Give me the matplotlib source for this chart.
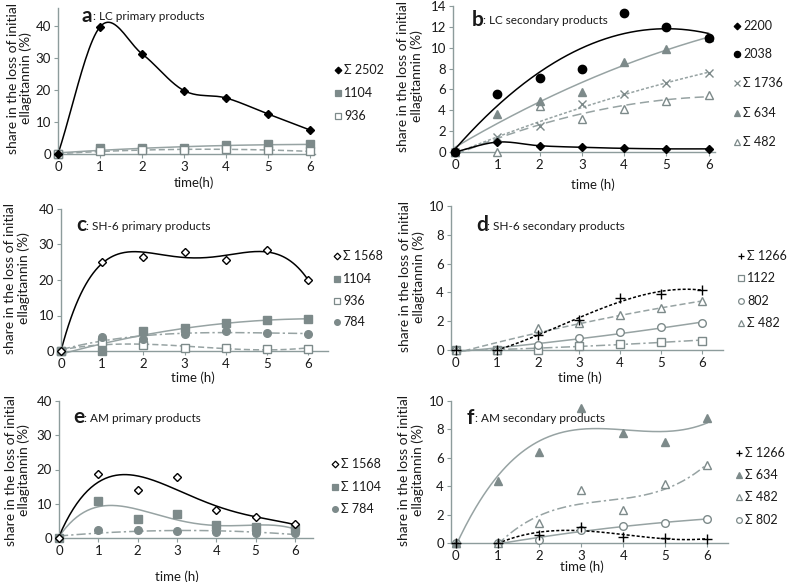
import numpy as np
import matplotlib
matplotlib.use("Agg")
import matplotlib.pyplot as plt
from matplotlib.lines import Line2D

plt.rcParams["font.family"] = ["Lato", "DejaVu Sans"]

# ── Data ─────────────────────────────────────────────────────────
T = [0, 1, 2, 3, 4, 5, 6]

# a : LC primary products
A_2502 = [0, 39.7, 31.3, 19.8, 17.5, 12.5, 7.5]
A_1104 = [0, 1.8, 1.8, 1.8, 2.7, 3.0, 3.0]
A_936 = [0, 1.0, 1.2, 1.3, 1.5, 1.3, 0.8]

# b : LC secondary products
B_2200 = [0, 0.95, 0.6, 0.45, 0.35, 0.3, 0.3]
B_2038 = [0, 5.6, 7.1, 8.0, 13.3, 12.0, 10.9]
B_1736 = [0, 1.4, 2.5, 4.6, 5.6, 6.6, 7.6]
B_634 = [0, 3.6, 4.9, 5.8, 8.6, 9.9, 11.0]
B_482 = [0, 0.0, 4.4, 3.2, 4.1, 4.9, 5.5]

# c : SH-6 primary products
C_1568 = [0, 25.2, 26.6, 28.0, 25.7, 28.4, 19.9]
C_1104 = [0, 0.0, 5.6, 6.5, 7.9, 8.6, 9.0]
C_936 = [0, 2.5, 1.6, 0.9, 0.8, 0.7, 0.7]
C_784 = [0, 4.0, 3.3, 4.9, 5.5, 5.2, 4.8]

# d : SH-6 secondary products
D_1266 = [0, 0.0, 1.05, 2.1, 3.6, 3.9, 4.2]
D_1122 = [0, 0.0, 0.0, 0.3, 0.45, 0.55, 0.65]
D_802 = [0, 0.0, 0.35, 0.8, 1.25, 1.6, 1.85]
D_482 = [0, 0.0, 1.5, 1.85, 2.4, 2.9, 3.4]

# e : AM primary products
E_1568 = [0, 18.6, 13.9, 17.7, 8.1, 6.1, 4.0]
E_1104 = [0, 10.8, 5.6, 7.1, 3.7, 3.2, 2.8]
E_784 = [0, 2.2, 2.3, 2.0, 1.7, 1.4, 1.4]

# f : AM secondary products
F_1266 = [0, 0.0, 0.58, 1.15, 0.4, 0.35, 0.3]
F_634 = [0, 4.4, 6.4, 9.5, 7.75, 7.1, 8.8]
F_482 = [0, 0.0, 1.4, 3.7, 2.3, 4.15, 5.5]
F_802 = [0, 0.0, 0.22, 0.93, 1.2, 1.4, 1.7]

# ── Style ────────────────────────────────────────────────────────
W, H = 787, 582
AXC = "#8d9c9c"
GREY = "#7d8a8a"
GLINE = "#97a3a3"
TXT = "#1a1a1a"

fig = plt.figure(figsize=(W / 100, H / 100), dpi=100)


def smooth(x, y, n=24):
    """Catmull-Rom curve through the points (Excel 'smoothed line')."""
    x = np.asarray(x, float)
    y = np.asarray(y, float)
    px = np.concatenate([[2 * x[0] - x[1]], x, [2 * x[-1] - x[-2]]])
    py = np.concatenate([[2 * y[0] - y[1]], y, [2 * y[-1] - y[-2]]])
    xs, ys = [], []
    t = np.linspace(0, 1, n)
    for i in range(1, len(px) - 2):
        for p, out in ((px, xs), (py, ys)):
            p0, p1, p2, p3 = p[i - 1], p[i], p[i + 1], p[i + 2]
            out.extend(0.5 * ((2 * p1) + (-p0 + p2) * t
                              + (2 * p0 - 5 * p1 + 4 * p2 - p3) * t ** 2
                              + (-p0 + 3 * p1 - 3 * p2 + p3) * t ** 3))
    return np.array(xs), np.array(ys)


def trend(x, y, deg, start=0):
    """Polynomial trendline (Excel style)."""
    x = np.asarray(x, float)
    y = np.asarray(y, float)
    m = x >= start
    c = np.polyfit(x[m], y[m], deg)
    xx = np.linspace(x[m][0], x[m][-1], 200)
    return xx, np.polyval(c, xx)


def px_axes(left, right, top, bottom, xlim, ylim, yticks):
    ax = fig.add_axes([left / W, 1 - bottom / H, (right - left) / W, (bottom - top) / H])
    ax.set_xlim(xlim)
    ax.set_ylim(ylim)
    ax.set_xticks(T)
    ax.set_yticks(yticks)
    ax.patch.set_alpha(0)
    for s in ("top", "right"):
        ax.spines[s].set_visible(False)
    for s in ("left", "bottom"):
        ax.spines[s].set_color(AXC)
        ax.spines[s].set_linewidth(1.0)
    ax.tick_params(direction="out", length=3, width=0.8, color=AXC,
                   labelsize=9.5, labelcolor=TXT, pad=2)
    return ax


def serie(ax, y, marker, mfc, mec, ms, lcolor, ls, fit):
    if fit[0] == "smooth":
        xx, yy = smooth(T, y)
    else:
        xx, yy = trend(T, y, fit[1], fit[2])
    ax.plot(xx, yy, color=lcolor, ls=ls, lw=1.1, clip_on=False, zorder=2)
    ax.plot(T, y, ls="none", marker=marker, mfc=mfc, mec=mec, ms=ms,
            mew=1.0, clip_on=False, zorder=3)


def legende(xm, rows, entries):
    for yr, (lab, marker, mfc, mec, ms) in zip(rows, entries):
        fig.add_artist(Line2D([xm / W], [1 - yr / H], transform=fig.transFigure,
                              marker=marker, mfc=mfc, mec=mec, ms=ms * 0.75, mew=0.9, ls="none"))
        fig.text((xm + 6) / W, 1 - yr / H, lab, fontsize=9, color=TXT,
                 ha="left", va="center")


def titre(x, y, lettre, texte, dx):
    fig.text(x / W, 1 - y / H, lettre, fontsize=15, fontweight="bold",
             color=TXT, ha="left", va="center")
    fig.text((x + dx) / W, 1 - (y + 1) / H, texte, fontsize=8.5, color=TXT,
             ha="left", va="center")


def ylabel(x, y):
    fig.text(x / W, 1 - y / H, "share in the loss of initial\nellagitannin (%)",
             rotation=90, fontsize=10, color=TXT, ha="center", va="center",
             multialignment="center", linespacing=1.1)


def xlabel(x, y, txt="time (h)"):
    fig.text(x / W, 1 - y / H, txt, fontsize=9.5, color=TXT, ha="center", va="center")


# marker definitions (marker, face, edge, size)
K_DIA = ("D", "black", "black", 4.5)
K_DIA_O = ("D", "white", "black", 4.5)
K_CIR = ("o", "black", "black", 6)
G_SQ = ("s", GREY, GREY, 5.5)
G_SQ_O = ("s", "white", GREY, 5.5)
G_CIR = ("o", GREY, GREY, 5.5)
G_CIR_O = ("o", "white", GREY, 5.5)
G_TRI = ("^", GREY, GREY, 6)
G_TRI_O = ("^", "white", GREY, 6)
G_X = ("x", GREY, GREY, 5.5)
K_PLUS = ("+", "black", "black", 6.5)

DASH = (0, (4, 2))
SDASH = (0, (2, 1.3))
LDASH = (0, (6, 3))
DDOT = (0, (6, 2, 1.5, 2))

# ── a ─────────────────────────────────────────────────────────────
ax = px_axes(58, 315, 8, 154, (0, 6.12), (0, 45.6), [0, 10, 20, 30, 40])
serie(ax, A_1104, *G_SQ, GLINE, "-", ("poly", 2, 0))
serie(ax, A_936, *G_SQ_O, GLINE, DASH, ("poly", 2, 0))
serie(ax, A_2502, *K_DIA, "black", "-", ("smooth",))
titre(82, 16, "a", ": LC primary products", 11)
ylabel(19.5, 78)
xlabel(194, 183, "time(h)")
legende(338, [70, 93, 116], [("Σ 2502",) + K_DIA, ("1104",) + G_SQ, ("936",) + G_SQ_O])

# ── b ─────────────────────────────────────────────────────────────
ax = px_axes(453, 715, 6, 152, (-0.05, 6.15), (0, 14), list(range(0, 15, 2)))
serie(ax, B_482, *G_TRI_O, GLINE, LDASH, ("poly", 2, 0))
serie(ax, B_1736, *G_X, GLINE, SDASH, ("poly", 2, 0))
serie(ax, B_634, *G_TRI, GLINE, "-", ("poly", 2, 0))
serie(ax, B_2038, *K_CIR, "black", "-", ("poly", 2, 0))
serie(ax, B_2200, *K_DIA, "black", "-", ("smooth",))
titre(472, 20, "b", ": LC secondary products", 11)
ylabel(410, 76)
xlabel(593, 185)
legende(737, [26, 54, 83, 113, 142],
        [("2200",) + K_DIA, ("2038",) + K_CIR, ("Σ 1736",) + G_X,
         ("Σ 634",) + G_TRI, ("Σ 482",) + G_TRI_O])

# ── c ─────────────────────────────────────────────────────────────
ax = px_axes(61, 328, 209, 351, (0, 6.48), (0, 40), [0, 10, 20, 30, 40])
serie(ax, C_936, *G_SQ_O, GLINE, DASH, ("poly", 3, 0))
serie(ax, C_784, *G_CIR, GLINE, DDOT, ("poly", 3, 0))
serie(ax, C_1104, *G_SQ, GLINE, "-", ("poly", 2, 0))
serie(ax, C_1568, *K_DIA_O, "black", "-", ("poly", 5, 0))
titre(76, 225, "c", ": SH-6 primary products", 10)
ylabel(17, 278)
xlabel(193, 378)
legende(337, [256, 279, 301, 322],
        [("Σ 1568",) + K_DIA_O, ("1104",) + G_SQ, ("936",) + G_SQ_O, ("784",) + G_CIR])

# ── d ─────────────────────────────────────────────────────────────
ax = px_axes(451, 723, 206, 350, (-0.11, 6.5), (0, 10), list(range(0, 11, 2)))
serie(ax, D_1122, *G_SQ_O, GLINE, DDOT, ("poly", 2, 0))
serie(ax, D_802, *G_CIR_O, GLINE, "-", ("poly", 2, 0))
serie(ax, D_482, *G_TRI_O, GLINE, DASH, ("poly", 2, 0))
serie(ax, D_1266, *K_PLUS, "black", SDASH, ("poly", 3, 1))
titre(476, 225, "d", ": SH-6 secondary products", 11)
ylabel(412, 277)
xlabel(580, 378)
legende(741, [256, 278, 301, 323],
        [("Σ 1266",) + K_PLUS, ("1122",) + G_SQ_O, ("802",) + G_CIR_O, ("Σ 482",) + G_TRI_O])

# ── e ─────────────────────────────────────────────────────────────
ax = px_axes(59, 313, 401, 538, (0, 6.46), (0, 40), [0, 10, 20, 30, 40])
serie(ax, E_784, *G_CIR, GLINE, DDOT, ("poly", 2, 0))
serie(ax, E_1104, *G_SQ, GLINE, "-", ("poly", 4, 0))
serie(ax, E_1568, *K_DIA_O, "black", "-", ("poly", 4, 0))
titre(73, 417, "e", ": AM primary products", 11)
ylabel(17.5, 470)
xlabel(177, 577)
legende(335, [464, 487, 509],
        [("Σ 1568",) + K_DIA_O, ("Σ 1104",) + G_SQ, ("Σ 784",) + G_CIR])

# ── f ─────────────────────────────────────────────────────────────
ax = px_axes(451, 728, 401, 543, (-0.11, 6.5), (0, 10), list(range(0, 11, 2)))
serie(ax, F_802, *G_CIR_O, GLINE, "-", ("poly", 2, 1))
serie(ax, F_482, *G_TRI_O, GLINE, DDOT, ("poly", 3, 1))
serie(ax, F_634, *G_TRI, GLINE, "-", ("poly", 3, 0))
serie(ax, F_1266, *K_PLUS, "black", SDASH, ("poly", 3, 1))
titre(467, 418, "f", ": AM secondary products", 8)
ylabel(411, 470)
xlabel(582, 567)
legende(739, [453, 475, 497, 520],
        [("Σ 1266",) + K_PLUS, ("Σ 634",) + G_TRI, ("Σ 482",) + G_TRI_O, ("Σ 802",) + G_CIR_O])

fig.savefig("out.png", dpi=100)
